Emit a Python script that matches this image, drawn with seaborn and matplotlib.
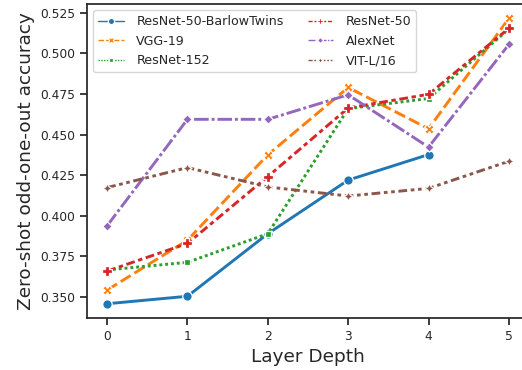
import matplotlib
matplotlib.use("Agg")
import matplotlib.pyplot as plt
import seaborn as sns
import pandas as pd

models = ["ResNet-50-BarlowTwins", "VGG-19", "ResNet-152", "ResNet-50", "AlexNet", "VIT-L/16"]
layers = [0, 1, 2, 3, 4, 5]
barlow = [0.3459, 0.3505, 0.389, 0.422, 0.4377, None]
vgg19 = [0.3543, 0.385, 0.4376, 0.479, 0.4536, 0.5216]
resnet152 = [0.3667, 0.3714, 0.389, 0.466, 0.4722, 0.515]
resnet50 = [0.366, 0.383, 0.4242, 0.4664, 0.4748, 0.5154]
alexnet = [0.3939, 0.4594, 0.4594, 0.4745, 0.4423, 0.5055]
vit = [0.4174, 0.4297, 0.4178, 0.4122, 0.4169, 0.4336]

series = [barlow, vgg19, resnet152, resnet50, alexnet, vit]
rows = []
for m, vals in zip(models, series):
    for l, v in zip(layers, vals):
        if v is not None:
            rows.append({"Layer Depth": l, "acc": v, "model": m})
df = pd.DataFrame(rows)

sns.set_theme(style="ticks")
fig = plt.figure(figsize=(5.22, 3.70), dpi=100)
ax = fig.add_axes([0.1667, 0.1405, 0.8467, 0.8487])
sns.lineplot(data=df, x="Layer Depth", y="acc", hue="model", style="model",
             hue_order=models, style_order=models, markers=True,
             palette="tab10", linewidth=2.1, markersize=6.8,
             markeredgewidth=0.9, ax=ax)
ax.set_xlim(-0.25, 5.25)
ax.set_xticks(layers)
yt = [0.35, 0.375, 0.4, 0.425, 0.45, 0.475, 0.5, 0.525]
ax.set_yticks(yt)
ax.set_yticklabels([f"{t:.3f}" for t in yt])
ax.tick_params(labelsize=8.8, colors=".15", length=5)
ax.set_xlabel("Layer Depth", fontsize=13.3, color=".15")
ax.set_ylabel("Zero-shot odd-one-out accuracy", fontsize=13.3, color=".15")
ax.spines["right"].set_visible(False)
leg = ax.legend(loc="upper left", ncol=2, fontsize=9.1, frameon=True,
                handletextpad=1.0, columnspacing=1.9)
for h in leg.legend_handles:
    h.set_linewidth(1.0)
    h.set_markersize(4.5)
fig.savefig("out.png", dpi=100)
